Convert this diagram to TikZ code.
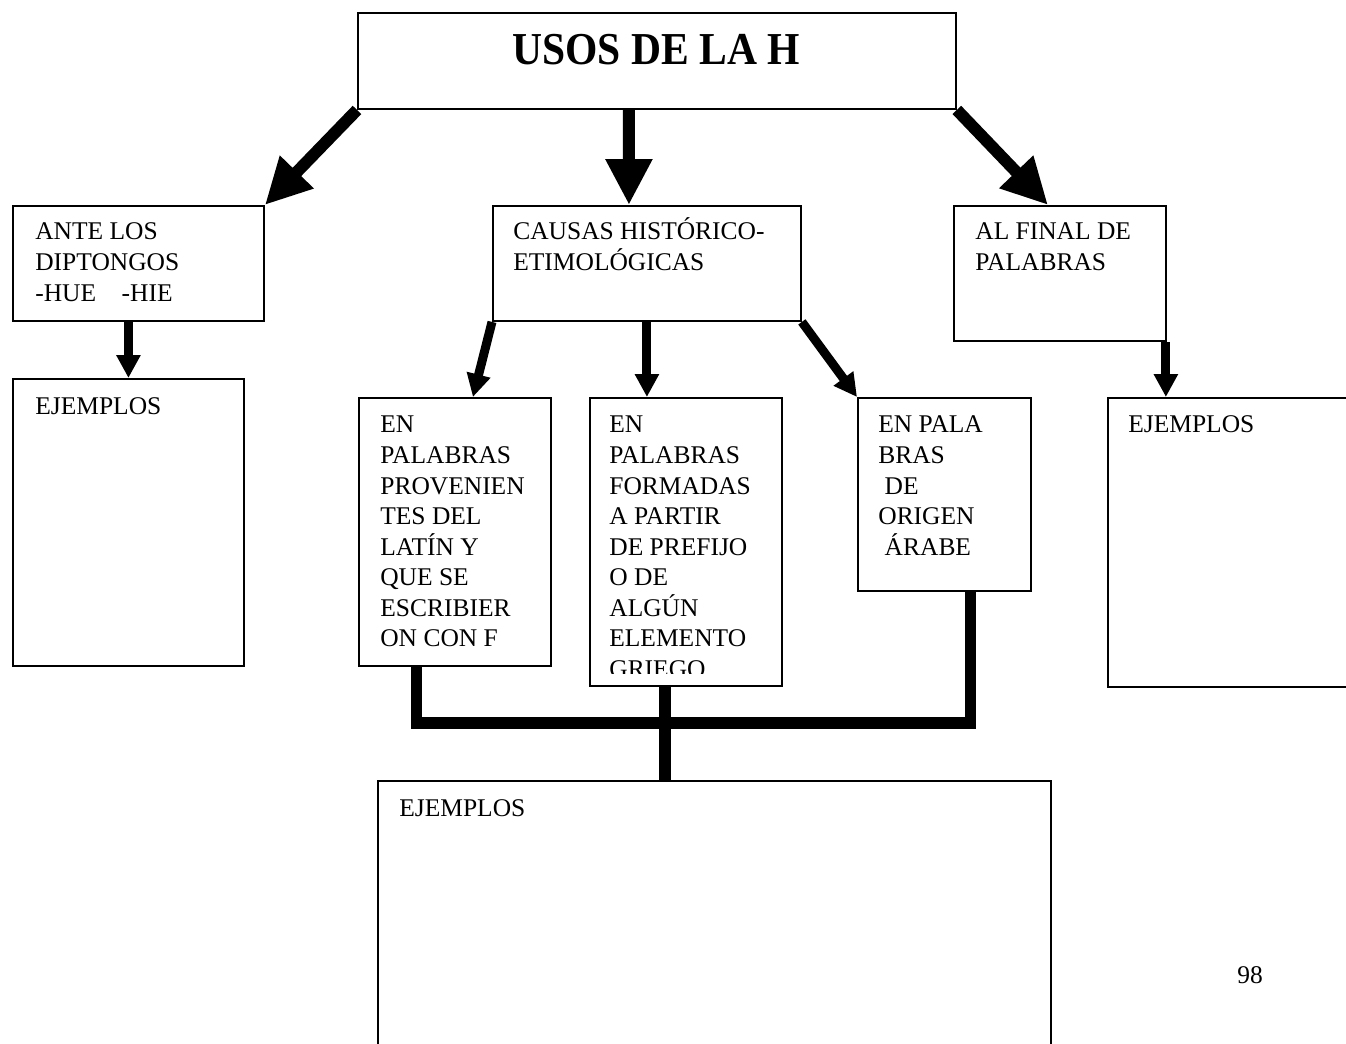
\documentclass[tikz,border=0pt]{standalone}
\usepackage{fontspec}
\setmainfont{Liberation Serif}
\usetikzlibrary{arrows.meta}

\newcommand{\tope}{\rule{0pt}{14pt}}

\begin{document}
\begin{tikzpicture}[x=0.02cm, y=-0.02cm,
    caja/.style={rectangle, draw, line width=1.1pt, inner sep=0pt, anchor=north west},
    texto/.style={anchor=north west, inner sep=0pt, align=left, font=\fontsize{14.5}{17.4}\selectfont},
    flechagrande/.style={line width=6.8pt, -{Triangle[length=0.92cm, width=0.88cm]}},
    flechachica/.style={line width=5.1pt, -{Triangle[length=0.46cm, width=0.46cm]}},
    tubo/.style={line width=6.3pt}]

          % Page
          \clip (0,0) rectangle (1346,1044);

          % Rectangles
          \node[caja, minimum width=11.96cm, minimum height=1.92cm] (titulo) at (357,12) {};
          \node[caja, minimum width=5.02cm, minimum height=2.30cm] (ante) at (12,205) {};
          \node[caja, minimum width=6.16cm, minimum height=2.30cm] (causas) at (492,205) {};
          \node[caja, minimum width=4.24cm, minimum height=2.70cm] (final) at (953,205) {};
          \node[caja, minimum width=4.62cm, minimum height=5.74cm] (ejizq) at (12,378) {};
          \node[caja, minimum width=3.84cm, minimum height=5.36cm] (latin) at (358,397) {};
          \node[caja, minimum width=3.84cm, minimum height=5.76cm] (griego) at (589,397) {};
          \node[caja, minimum width=3.46cm, minimum height=3.86cm] (arabe) at (857,397) {};
          \node[caja, minimum width=5.20cm, minimum height=5.78cm] (ejder) at (1107,397) {};
          \node[caja, minimum width=13.46cm, minimum height=5.80cm] (ejabajo) at (377,780) {};

          % Title
          \node (ttitulo) at (656,50) {\scalebox{0.91}[1]{\fontsize{26}{30}\selectfont\bfseries USOS DE LA H}};

          % Texts
          \node[texto] (tante) at (35,215) {\tope ANTE LOS\\DIPTONGOS\\-HUE\hspace{1em}-HIE};
          \node[texto] (tcausas) at (513,215) {\tope CAUSAS HIST\'ORICO-\\ETIMOL\'OGICAS};
          \node[texto] (tfinal) at (975,215) {\tope AL FINAL DE\\PALABRAS};
          \node[texto] (tejizq) at (35,390) {\tope EJEMPLOS};
          \node[texto] (tlatin) at (380,408) {\tope EN\\PALABRAS\\PROVENIEN\\TES DEL\\LAT\'IN Y\\QUE SE\\ESCRIBIER\\ON CON F};
          \begin{scope}
            \clip (589,397) rectangle (781,673);
            \node[texto] (tgriego) at (609,408) {\tope EN\\PALABRAS\\FORMADAS\\A PARTIR\\DE PREFIJO\\O DE\\ALG\'UN\\ELEMENTO\\GRIEGO};
          \end{scope}
          \node[texto] (tarabe) at (878,408) {\tope EN PALA\\BRAS\\\hspace{0.25em}DE\\ORIGEN\\\hspace{0.25em}\'ARABE};
          \node[texto] (tejder) at (1128,408) {\tope EJEMPLOS};
          \node[texto] (tejabajo) at (399,792) {\tope EJEMPLOS};
          \node (pagina) at (1250,975) {\fontsize{14.5}{17.4}\selectfont 98};

          % Arrows
          \draw[flechagrande] (titulo.south west) -- (ante.north east);
          \draw[flechagrande] ([xshift=-0.56cm]titulo.south) -- ([xshift=-0.36cm]causas.north);
          \draw[flechagrande] (titulo.south east) -- ([xshift=1.9cm]final.north west);
          \draw[flechachica] (ante.south -| ejizq.north) -- (ejizq.north);
          \draw[flechachica] (causas.south west) -- ([xshift=0.36cm]latin.north);
          \draw[flechachica] (causas.south) -- (causas.south |- griego.north);
          \draw[flechachica] (causas.south east) -- (arabe.north west);
          \coordinate (bajafinal) at ([xshift=-0.02cm]final.south east);
          \draw[flechachica] (bajafinal) -- (bajafinal |- ejder.north);

          % Joining lines
          \coordinate (union) at (665,723);
          \draw[tubo] ([xshift=-0.76cm]latin.south) |- (union) -| ([xshift=0.53cm]arabe.south);
          \draw[tubo] (griego.south -| union) -- (ejabajo.north -| union);

\end{tikzpicture}
\end{document}
